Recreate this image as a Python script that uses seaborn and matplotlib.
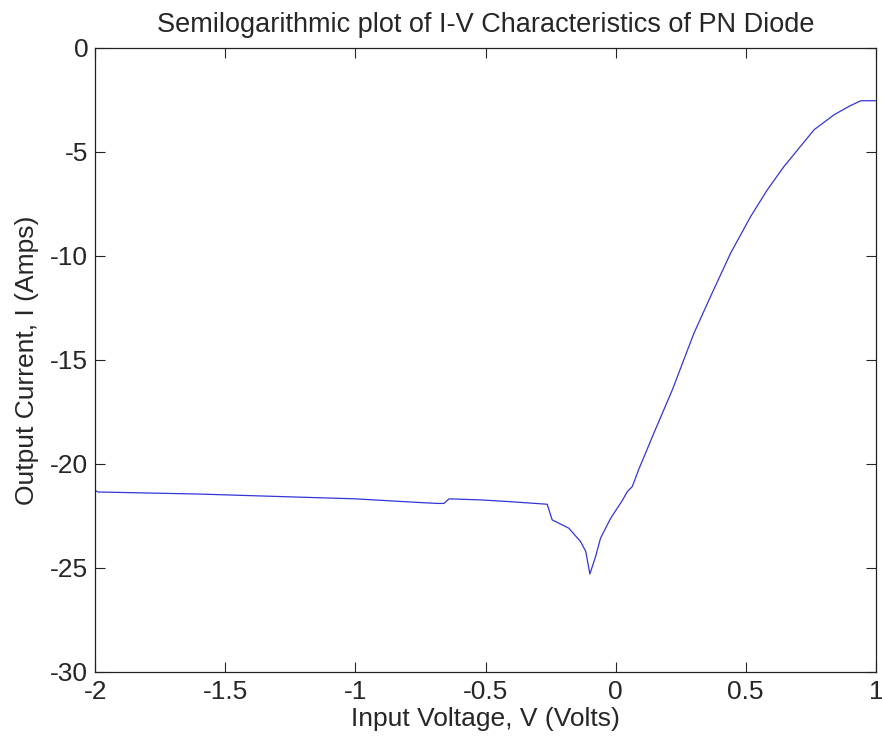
#!/usr/bin/env python3
"""Semilog I-V characteristic of a PN diode, MATLAB-style axes."""
import matplotlib
matplotlib.use("Agg")
import matplotlib.pyplot as plt
import pandas as pd
import seaborn as sns

voltage = [-2.0, -1.99, -1.6, -1.288, -1.0, -0.777, -0.685, -0.66, -0.64, -0.52,
           -0.40, -0.263, -0.244, -0.18, -0.135, -0.115, -0.099, -0.077, -0.058,
           -0.019, 0.026, 0.045, 0.064, 0.088, 0.147, 0.218, 0.301, 0.365,
           0.442, 0.519, 0.583, 0.647, 0.763, 0.840, 0.90, 0.942, 1.0]
log_current = [-21.28, -21.35, -21.45, -21.57, -21.68, -21.84, -21.9, -21.9,
               -21.68, -21.73, -21.82, -21.94, -22.69, -23.09, -23.73, -24.2,
               -25.29, -24.45, -23.57, -22.61, -21.75, -21.33, -21.09, -20.29,
               -18.52, -16.44, -13.72, -11.95, -9.87, -8.11, -6.83, -5.71, -3.94,
               -3.22, -2.8, -2.55, -2.55]

X_TICKS = [-2, -1.5, -1, -0.5, 0, 0.5, 1]
Y_TICKS = [0, -5, -10, -15, -20, -25, -30]


def main():
    sns.set_style("ticks")
    plt.rcParams["font.family"] = ["Liberation Sans", "DejaVu Sans"]
    df = pd.DataFrame({"V": voltage, "I": log_current})

    fig = plt.figure(figsize=(8.82, 7.45), dpi=100)
    ax = fig.add_axes([0.108, 0.098, 0.885, 0.838])
    sns.lineplot(data=df, x="V", y="I", color="#3434d8", lw=0.9, ax=ax)

    ax.set_xlim(-2, 1)
    ax.set_ylim(-30, 0)
    ax.set_xticks(X_TICKS)
    ax.set_xticklabels([f"{t:g}" for t in X_TICKS])
    ax.set_yticks(Y_TICKS)
    ax.set_yticklabels([f"{t:g}" for t in Y_TICKS])
    ax.tick_params(direction="in", length=7, width=0.8, labelsize=19,
                   top=True, right=True)
    ax.tick_params(axis="x", pad=6)
    ax.tick_params(axis="y", pad=5)
    for s in ax.spines.values():
        s.set_linewidth(0.9)
        s.set_color("#222222")
    ax.set_xlabel("Input Voltage, V (Volts)", fontsize=19, labelpad=2)
    ax.set_ylabel("Output Current, I (Amps)", fontsize=19, labelpad=8)
    ax.set_title("Semilogarithmic plot of I-V Characteristics of PN Diode",
                 fontsize=19.5, pad=11)
    fig.savefig("out.png", dpi=100)


if __name__ == "__main__":
    main()
